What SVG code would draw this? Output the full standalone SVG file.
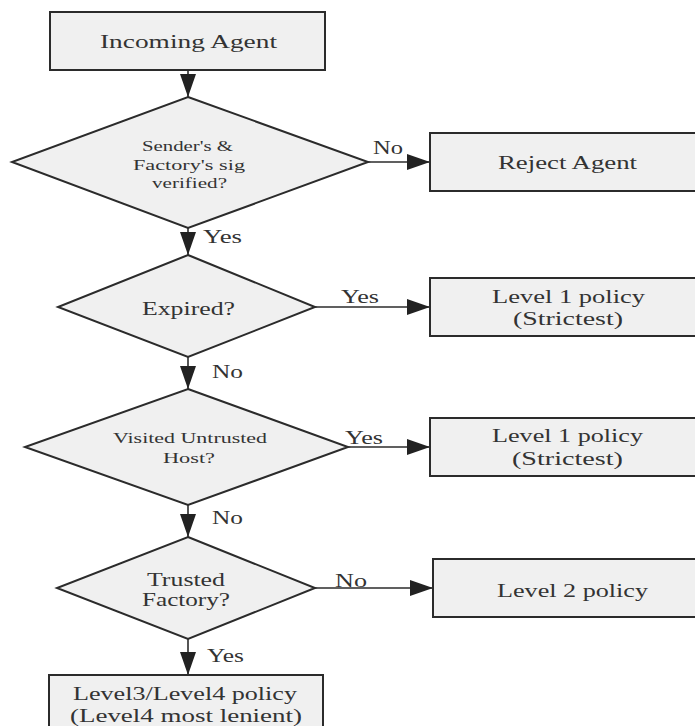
<svg xmlns="http://www.w3.org/2000/svg" width="695" height="726" viewBox="0 0 695 726" font-family="'Liberation Serif', 'Times New Roman', serif">
  <style>
    .shape { fill: #f0f0f0; stroke: #2b2b2b; stroke-width: 2; }
    .conn { fill: none; stroke: #2b2b2b; stroke-width: 1.6; }
    .t { font-family: "Liberation Serif", "Times New Roman", serif; fill: #333; }
    .box { font-size: 19px; }
    .q { font-size: 14px; }
    .qbig { font-size: 18px; }
    .lbl { font-size: 18px; }
  </style>
  <defs>
    <marker id="arrow" markerUnits="userSpaceOnUse" markerWidth="26" markerHeight="18" refX="23" refY="8" orient="auto">
      <path d="M0,0 L23,8 L0,16 Z" fill="#222"/>
    </marker>
  </defs>
  <rect width="695" height="726" fill="#ffffff"/>

  <g id="connectors">
    <line class="conn" x1="188" y1="70" x2="188" y2="97" marker-end="url(#arrow)"/>
    <line class="conn" x1="188" y1="228" x2="188" y2="255" marker-end="url(#arrow)"/>
    <line class="conn" x1="188" y1="357" x2="188" y2="389" marker-end="url(#arrow)"/>
    <line class="conn" x1="188" y1="505" x2="188" y2="537" marker-end="url(#arrow)"/>
    <line class="conn" x1="188" y1="639" x2="188" y2="675" marker-end="url(#arrow)"/>
    <line class="conn" x1="368" y1="162" x2="430" y2="162" marker-end="url(#arrow)"/>
    <line class="conn" x1="315" y1="307" x2="430" y2="307" marker-end="url(#arrow)"/>
    <line class="conn" x1="348" y1="447" x2="430" y2="447" marker-end="url(#arrow)"/>
    <line class="conn" x1="315" y1="588" x2="433" y2="588" marker-end="url(#arrow)"/>
    <text class="t lbl" x="373" y="154" textLength="30" lengthAdjust="spacingAndGlyphs">No</text>
    <text class="t lbl" x="203" y="243" textLength="39" lengthAdjust="spacingAndGlyphs">Yes</text>
    <text class="t lbl" x="341" y="303" textLength="38" lengthAdjust="spacingAndGlyphs">Yes</text>
    <text class="t lbl" x="212" y="378" textLength="31" lengthAdjust="spacingAndGlyphs">No</text>
    <text class="t lbl" x="345" y="444" textLength="38" lengthAdjust="spacingAndGlyphs">Yes</text>
    <text class="t lbl" x="212" y="524" textLength="31" lengthAdjust="spacingAndGlyphs">No</text>
    <text class="t lbl" x="335" y="587" textLength="32" lengthAdjust="spacingAndGlyphs">No</text>
    <text class="t lbl" x="207" y="662" textLength="37" lengthAdjust="spacingAndGlyphs">Yes</text>
  </g>

  <g id="incoming">
    <rect class="shape" x="50" y="12" width="275" height="58"/>
    <text class="t box" x="100" y="48" textLength="177" lengthAdjust="spacingAndGlyphs">Incoming Agent</text>
  </g>

  <g id="sig-check">
    <polygon class="shape" points="188,97 368,162 188,228 12,162"/>
    <text class="t q" x="142" y="151" textLength="91" lengthAdjust="spacingAndGlyphs">Sender's &amp;</text>
    <text class="t q" x="133" y="170" textLength="112" lengthAdjust="spacingAndGlyphs">Factory's sig</text>
    <text class="t q" x="152" y="188" textLength="75" lengthAdjust="spacingAndGlyphs">verified?</text>
  </g>

  <g id="reject">
    <rect class="shape" x="430" y="133" width="275" height="58"/>
    <text class="t box" x="498" y="169" textLength="139" lengthAdjust="spacingAndGlyphs">Reject Agent</text>
  </g>

  <g id="expired">
    <polygon class="shape" points="188,255 315,307 188,357 58,307"/>
    <text class="t qbig" x="142" y="315" textLength="93" lengthAdjust="spacingAndGlyphs">Expired?</text>
  </g>

  <g id="level1-expired">
    <rect class="shape" x="430" y="278" width="275" height="58"/>
    <text class="t box" x="492" y="303" textLength="153" lengthAdjust="spacingAndGlyphs">Level 1 policy</text>
    <text class="t box" x="513" y="325" textLength="110" lengthAdjust="spacingAndGlyphs">(Strictest)</text>
  </g>

  <g id="untrusted-host">
    <polygon class="shape" points="188,389 348,447 188,505 25,447"/>
    <text class="t q" x="113" y="443" textLength="154" lengthAdjust="spacingAndGlyphs">Visited Untrusted</text>
    <text class="t q" x="163" y="463" textLength="52" lengthAdjust="spacingAndGlyphs">Host?</text>
  </g>

  <g id="level1-host">
    <rect class="shape" x="430" y="418" width="275" height="58"/>
    <text class="t box" x="492" y="442" textLength="151" lengthAdjust="spacingAndGlyphs">Level 1 policy</text>
    <text class="t box" x="512" y="465" textLength="111" lengthAdjust="spacingAndGlyphs">(Strictest)</text>
  </g>

  <g id="trusted-factory">
    <polygon class="shape" points="188,537 315,588 188,639 57,588"/>
    <text class="t qbig" x="147" y="586" textLength="78" lengthAdjust="spacingAndGlyphs">Trusted</text>
    <text class="t qbig" x="142" y="606" textLength="88" lengthAdjust="spacingAndGlyphs">Factory?</text>
  </g>

  <g id="level2">
    <rect class="shape" x="433" y="559" width="275" height="58"/>
    <text class="t box" x="497" y="597" textLength="151" lengthAdjust="spacingAndGlyphs">Level 2 policy</text>
  </g>

  <g id="level34">
    <rect class="shape" x="49" y="675" width="274" height="60"/>
    <text class="t box" x="73" y="700" textLength="224" lengthAdjust="spacingAndGlyphs">Level3/Level4 policy</text>
    <text class="t box" x="70" y="722" textLength="232" lengthAdjust="spacingAndGlyphs">(Level4 most lenient)</text>
  </g>
</svg>
